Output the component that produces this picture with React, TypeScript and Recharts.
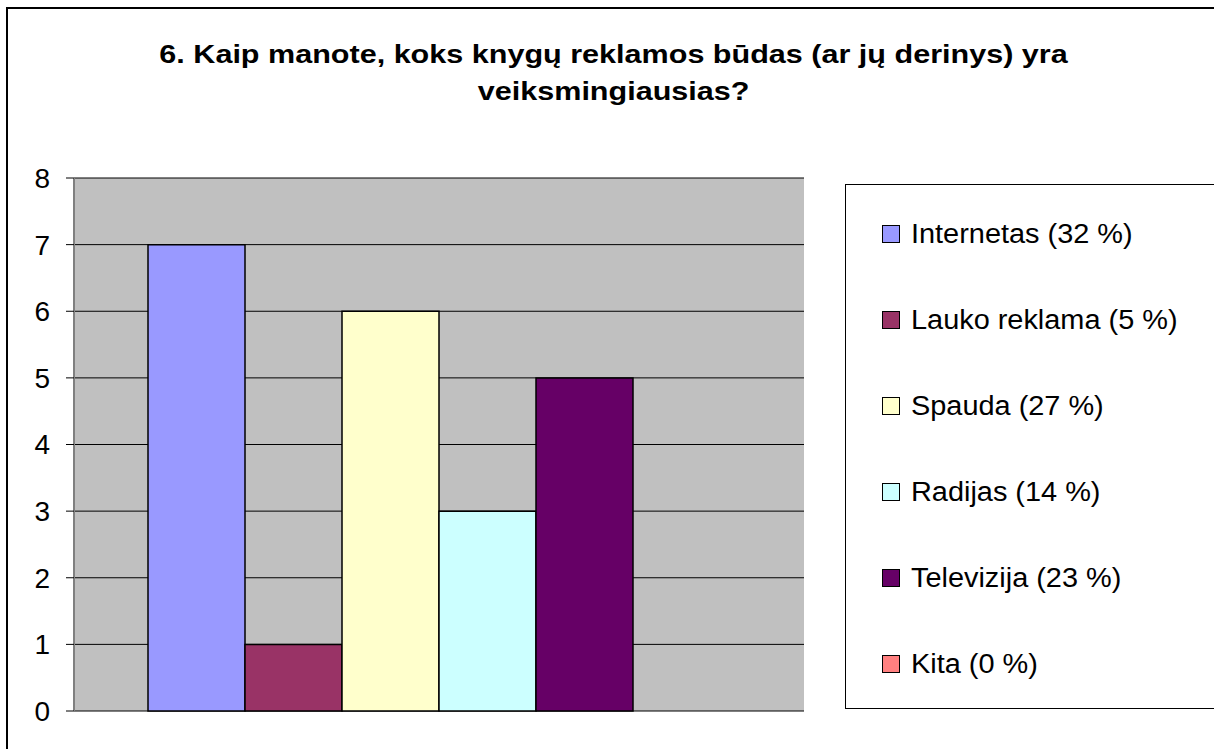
import React from 'react';
import { BarChart, Bar, XAxis, YAxis, CartesianGrid, Legend } from 'recharts';

const categories = [''];
const seriesNames = [
  'Internetas (32 %)',
  'Lauko reklama (5 %)',
  'Spauda (27 %)',
  'Radijas (14 %)',
  'Televizija (23 %)',
  'Kita (0 %)',
];
const seriesValues = [7, 1, 6, 3, 5, 0];
const seriesColors = ['#9999FF', '#993366', '#FFFFCC', '#CCFFFF', '#660066', '#FF8080'];
const yTicks = [0, 1, 2, 3, 4, 5, 6, 7, 8];
const titleLines = [
  '6. Kaip manote, koks knygų reklamos būdas (ar jų derinys) yra',
  'veiksmingiausias?',
];

const data = categories.map((c) => {
  const row: any = { name: c };
  seriesNames.forEach((_, i) => {
    row['s' + i] = seriesValues[i];
  });
  return row;
});

const FONT = '"Liberation Sans", Arial, sans-serif';

const renderLegend = () => {
  return (
    <div
      style={{
        width: '100%',
        height: '100%',
        boxSizing: 'border-box',
        border: '1px solid #000',
        background: '#fff',
        paddingTop: 6,
      }}
    >
      {seriesNames.map((name, i) => (
        <div
          key={i}
          style={{
            height: 86,
            display: 'flex',
            alignItems: 'center',
            fontFamily: FONT,
            fontSize: 27,
            color: '#000',
          }}
        >
          <span
            style={{
              display: 'inline-block',
              width: 16,
              height: 16,
              marginLeft: 36,
              marginRight: 11,
              background: seriesColors[i],
              border: '1.5px solid #000',
            }}
          />
          <span style={{ display: 'inline-block', transform: 'scaleX(1.07)', transformOrigin: 'left center', whiteSpace: 'nowrap' }}>
            {name}
          </span>
        </div>
      ))}
    </div>
  );
};

export default function App() {
  return (
    <div
      style={{
        position: 'absolute',
        left: 0,
        top: 0,
        width: 1214,
        height: 749,
        overflow: 'hidden',
        background: '#fff',
      }}
    >
      <div
        style={{
          position: 'absolute',
          left: 6,
          top: 7,
          width: 1400,
          height: 900,
          border: '2px solid #000',
        }}
      />
      <div
        style={{
          position: 'absolute',
          left: 0,
          top: 36,
          width: 1228,
          textAlign: 'center',
          fontFamily: FONT,
          fontWeight: 'bold',
          fontSize: 26,
          lineHeight: '37px',
          color: '#000',
        }}
      >
        {titleLines.map((t, i) => (
          <div key={i}>
            <span style={{ display: 'inline-block', transform: 'scaleX(1.175)', whiteSpace: 'nowrap' }}>{t}</span>
          </div>
        ))}
      </div>
      <div style={{ position: 'absolute', left: 0, top: 0 }}>
        <BarChart
          width={1214}
          height={749}
          data={data}
          margin={{ top: 178, right: 410, bottom: 38, left: 14 }}
          barGap={0}
          barCategoryGap={74}
        >
          <CartesianGrid vertical={false} fill="#c0c0c0" fillOpacity={1} stroke="#000" strokeWidth={1} />
          <XAxis
            dataKey="name"
            tick={false}
            tickLine={false}
            height={0}
            axisLine={{ stroke: '#808080', strokeWidth: 2 }}
          />
          <XAxis
            xAxisId="top"
            orientation="top"
            dataKey="name"
            tick={false}
            tickLine={false}
            height={0}
            axisLine={{ stroke: '#808080', strokeWidth: 2 }}
          />
          <YAxis
            width={60}
            domain={[0, 8]}
            ticks={yTicks}
            interval={0}
            tickSize={8}
            tickMargin={16}
            tick={{ fontSize: 28, fill: '#000', fontFamily: FONT }}
            tickLine={{ stroke: '#000' }}
            axisLine={{ stroke: '#808080', strokeWidth: 2 }}
          />
          <YAxis
            yAxisId="right"
            orientation="right"
            width={0}
            domain={[0, 8]}
            ticks={yTicks}
            tick={false}
            tickLine={false}
            axisLine={{ stroke: '#808080', strokeWidth: 2 }}
          />
          {seriesNames.map((n, i) => (
            <Bar
              key={n}
              dataKey={'s' + i}
              name={n}
              fill={seriesColors[i]}
              stroke="#000"
              strokeWidth={1.5}
              isAnimationActive={false}
            />
          ))}
          <Legend
            layout="vertical"
            align="center"
            verticalAlign="middle"
            content={renderLegend}
            wrapperStyle={{ position: 'absolute', left: 845, top: 184, width: 400, height: 525 }}
          />
        </BarChart>
      </div>
    </div>
  );
}
